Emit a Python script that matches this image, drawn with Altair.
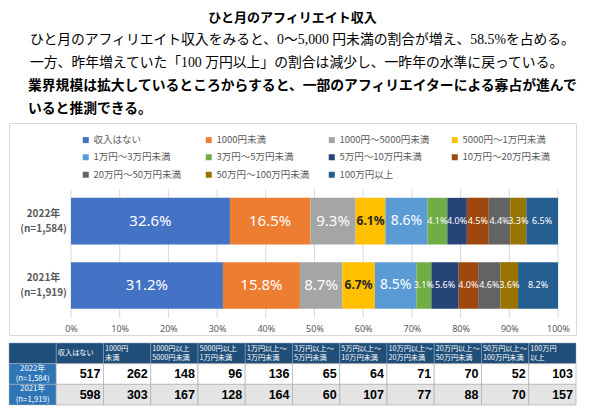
import altair as alt
import pandas as pd

title_text = "ひと月のアフィリエイト収入"
intro_lines = [
    "ひと月のアフィリエイト収入をみると、0～5,000 円未満の割合が増え、58.5%を占める。",
    "一方、昨年増えていた「100 万円以上」の割合は減少し、一昨年の水準に戻っている。",
]
emphasis_lines = [
    "業界規模は拡大しているところからすると、一部のアフィリエイターによる寡占が進んで",
    "いると推測できる。",
]

categories = [
    "収入はない", "1000円未満", "1000円～5000円未満", "5000円～1万円未満",
    "1万円～3万円未満", "3万円～5万円未満", "5万円～10万円未満", "10万円～20万円未満",
    "20万円～50万円未満", "50万円～100万円未満", "100万円以上",
]
table_headers = [
    "収入はない", "1000円\n未満", "1000円以上\n5000円未満", "5000円以上\n1万円未満",
    "1万円以上～\n3万円未満", "3万円以上～\n5万円未満", "5万円以上～\n10万円未満",
    "10万円以上～\n20万円未満", "20万円以上～\n50万円未満", "50万円以上～\n100万円未満",
    "100万円\n以上",
]
years = ["2022年", "2021年"]
sample_sizes = ["(n=1,584)", "(n=1,919)"]
pct_2022 = [32.6, 16.5, 9.3, 6.1, 8.6, 4.1, 4.0, 4.5, 4.4, 3.3, 6.5]
pct_2021 = [31.2, 15.8, 8.7, 6.7, 8.5, 3.1, 5.6, 4.0, 4.6, 3.6, 8.2]
count_2022 = [517, 262, 148, 96, 136, 65, 64, 71, 70, 52, 103]
count_2021 = [598, 303, 167, 128, 164, 60, 107, 77, 88, 70, 157]
palette = ["#4472C4", "#ED7D31", "#A5A5A5", "#FFC000", "#5B9BD5", "#70AD47",
           "#264478", "#9E480E", "#636363", "#997300", "#255E91"]
x_ticks = [0, 0.1, 0.2, 0.3, 0.4, 0.5, 0.6, 0.7, 0.8, 0.9, 1.0]

JP = "Noto Sans CJK JP"
GREY = "#595959"
row_labels = [f"{y}\n{n}" for y, n in zip(years, sample_sizes)]

# --- header text ---
intro_df = pd.DataFrame({"line": [0, 1], "text": intro_lines})
emph_df = pd.DataFrame({"line": [2, 3], "text": emphasis_lines})
line_y = alt.Y("line:O", scale=alt.Scale(type="point", range=[31, 100], padding=0), axis=None)

title_layer = alt.Chart(pd.DataFrame({"text": [title_text]})).mark_text(
    font=JP, fontSize=13, fontWeight="bold", color="black"
).encode(x=alt.value(283.5), y=alt.value(9), text="text:N")
intro_layer = alt.Chart(intro_df).mark_text(
    align="left", font="'Liberation Serif', 'Noto Sans CJK JP'", fontSize=13.8, color="black"
).encode(x=alt.value(21), y=line_y, text="text:N")
emph_layer = alt.Chart(emph_df).mark_text(
    align="left", font=JP, fontSize=13.8, fontWeight="bold", color="black"
).encode(x=alt.value(19), y=line_y, text="text:N")
header = alt.layer(title_layer, intro_layer, emph_layer).properties(width=567, height=112)

# --- stacked bars ---
rows = []
for label, pcts in zip(row_labels, [pct_2022, pct_2021]):
    for i, (cat, p) in enumerate(zip(categories, pcts)):
        rows.append({"year": label, "cat": cat, "idx": i, "pct": p})
share_df = pd.DataFrame(rows)

x_scale = alt.Scale(domain=[0, 1], range=[62, 549])
x_axis = alt.Axis(title=None, format="%", values=x_ticks, domain=False, ticks=False, grid=False,
                  offset=-13, labelPadding=2, labelFontSize=9, labelColor=GREY,
                  labelFont="Noto Sans", labelFlush=False)
y_enc = alt.Y("year:N", scale=alt.Scale(domain=row_labels, range=[66, 194.6],
                                        paddingInner=0.275, paddingOuter=0.1375),
              axis=alt.Axis(title=None, domain=False, ticks=False, offset=-34, labelPadding=0,
                            labelAlign="center", labelExpr="split(datum.label, '\\n')",
                            labelLineHeight=15, labelOffset=-7.5, labelFontSize=10,
                            labelFontWeight="bold", labelColor=GREY, labelFont=JP))

base = alt.Chart(share_df).transform_stack(
    stack="pct", groupby=["year"], as_=["x0", "x1"], offset="normalize",
    sort=[alt.SortField("idx", order="ascending")]
).transform_calculate(
    mid="(datum.x0 + datum.x1) / 2",
    label="format(datum.pct, '.1f') + '%'"
)

grid = alt.Chart(pd.DataFrame({"t": x_ticks})).mark_rule(color="#D9D9D9", strokeWidth=1).encode(
    x=alt.X("t:Q", scale=x_scale, axis=x_axis), y=alt.value(66), y2=alt.value(195)
)
bars = base.mark_bar().encode(
    x=alt.X("x0:Q", scale=x_scale, axis=x_axis),
    x2="x1:Q",
    y=y_enc,
    color=alt.Color("cat:N", scale=alt.Scale(domain=categories, range=palette),
                    legend=alt.Legend(title=None, orient="none", legendX=72, legendY=126,
                                      direction="horizontal", columns=4, gridAlign="all",
                                      symbolType="square", symbolSize=36, symbolStrokeWidth=0,
                                      labelFontSize=9.5, labelFont=JP, labelColor=GREY,
                                      columnPadding=17, rowPadding=6.5, labelOffset=3)),
)


def bar_labels(test, size, color="white", weight="normal"):
    return base.transform_filter(test).mark_text(
        font="Noto Sans", fontSize=size, color=color, fontWeight=weight
    ).encode(x=alt.X("mid:Q", scale=x_scale, axis=x_axis), y=y_enc, text="label:N")


bar_chart = alt.layer(
    grid, bars,
    bar_labels("datum.idx <= 2", 15),
    bar_labels("datum.idx == 3", 12, color="#262626", weight="bold"),
    bar_labels("datum.idx == 4", 14),
    bar_labels("datum.idx >= 5", 9),
).properties(width=567, height=212, view=alt.ViewBackground(stroke="#D9D9D9", strokeWidth=1))

# --- table ---
table_cols = ["row_head"] + categories
row_keys = ["head"] + years
head_df = pd.DataFrame({"col": table_cols, "row": "head", "text": [""] + table_headers})
label_df = pd.DataFrame({"col": "row_head", "row": years, "n": sample_sizes})
body_df = pd.DataFrame({
    "col": categories * 2,
    "row": [years[0]] * len(categories) + [years[1]] * len(categories),
    "value": count_2022 + count_2021,
})


def tx(band=0.5):
    return alt.X("col:N", scale=alt.Scale(domain=table_cols, paddingInner=0, paddingOuter=0),
                 axis=None, bandPosition=band)


ty = alt.Y("row:N", scale=alt.Scale(domain=row_keys, range=[6, 68], paddingInner=0, paddingOuter=0),
           axis=None)

head_rect = alt.Chart(head_df).mark_rect(fill="#1F4E79", stroke="#8FA8C0", strokeWidth=0.5).encode(x=tx(), y=ty)
label_rect = alt.Chart(label_df).mark_rect(fill="#2E75B6", stroke="#BFBFBF", strokeWidth=0.5).encode(x=tx(), y=ty)
body_rect = alt.Chart(body_df).mark_rect(stroke="#A6A6A6", strokeWidth=0.6).encode(
    x=tx(), y=ty,
    fill=alt.condition(alt.datum.row == years[1], alt.value("#E4E4E4"), alt.value("white")),
)
head_one = alt.Chart(head_df).transform_filter("indexof(datum.text, '\\n') < 0").mark_text(
    align="left", baseline="middle", dx=1.5, font=JP, fontSize=7.2, color="white"
).encode(x=tx(0), y=ty, text="text:N")
head_two = alt.Chart(head_df).transform_filter("indexof(datum.text, '\\n') >= 0").mark_text(
    align="left", baseline="middle", dx=1.5, dy=-4.5, font=JP, fontSize=7.2, lineHeight=9,
    lineBreak="\n", color="white"
).encode(x=tx(0), y=ty, text="text:N")
year_text = alt.Chart(label_df).mark_text(
    align="center", baseline="middle", dy=-5.2, font=JP, fontSize=7.8, color="white"
).encode(x=tx(), y=ty, text="row:N")
n_text = alt.Chart(label_df).mark_text(
    align="center", baseline="middle", dy=5.2, font=JP, fontSize=7.8, color="white"
).encode(x=tx(), y=ty, text="n:N")
body_text = alt.Chart(body_df).mark_text(
    align="right", baseline="middle", dx=-3, font="Liberation Sans", fontSize=12.5,
    fontWeight="bold", color="black"
).encode(x=tx(1), y=ty, text="value:Q")

table = alt.layer(head_rect, label_rect, body_rect, head_one, head_two,
                  year_text, n_text, body_text).properties(width=567, height=68)

chart = alt.vconcat(header, bar_chart, table, spacing=0).properties(
    padding=0
).configure_view(stroke="transparent")

chart.save("out.html", embed_options={"renderer": "svg", "actions": False})
